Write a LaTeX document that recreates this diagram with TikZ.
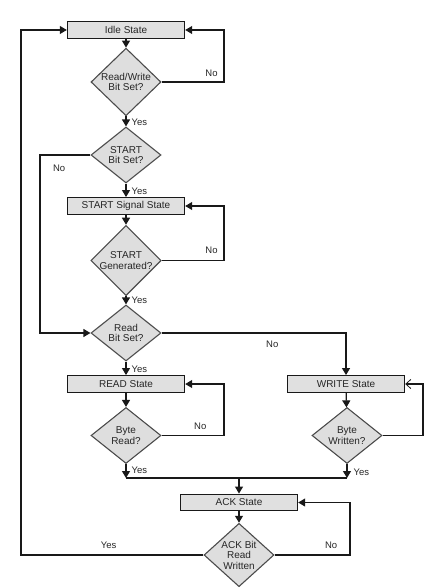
\documentclass[tikz,border=0pt]{standalone}
\usepackage{fontspec}
\setmainfont{Liberation Sans}
\usetikzlibrary{shapes.geometric,arrows.meta}
\begin{document}
\begin{tikzpicture}[x=1pt,y=-1pt,
  every node/.style={font=\fontsize{10}{10.5}\selectfont, text=black!85},
  statebox/.style={draw=black!90, line width=1.4pt, fill=black!12, minimum width=117pt, minimum height=16.5pt, inner sep=0pt},
  decision/.style={draw=black!70, line width=1.1pt, fill=black!13, shape=diamond, minimum width=70pt, minimum height=56pt, inner sep=0pt, align=center},
  flow/.style={line width=1.2pt, draw=black!90, -{Triangle[length=7pt,width=8pt]}},
  plain/.style={line width=1.2pt, draw=black!90},
  openflow/.style={line width=1.2pt, draw=black!90, -{Straight Barb[length=5pt,width=9pt,line width=0.8pt]}},
  lbl/.style={font=\fontsize{9.5}{10}\selectfont, inner sep=0pt}
]
\useasboundingbox (0,0) rectangle (434,588);

\node[statebox] (idle) at (126,30) {Idle State};
\node[decision] (rw) at (126,82) {Read/Write\\Bit Set?};
\node[decision] (sb) at (126,155) {START\\Bit Set?};
\node[statebox] (sss) at (126,206) {START Signal State};
\node[decision] (sg) at (126,260.5) {START\\Generated?};
\node[decision] (rb) at (126,333) {Read\\Bit Set?};
\node[statebox] (read) at (126,384) {READ State};
\node[decision] (br) at (126,435.5) {Byte\\Read?};
\node[statebox] (write) at (346,384) {WRITE State};
\node[decision] (bw) at (347,435.5) {Byte\\Written?};
\node[statebox] (ack) at (239,502.5) {ACK State};
\node[decision] (ackd) at (239,555) {ACK Bit\\Read\\Written};

\coordinate (mL) at (126,478);
\coordinate (mR) at (347,478);
\coordinate (mC) at (239,478);

% main flow
\draw[flow] (idle) -- (rw);
\draw[flow] (rw) -- (sb) node[lbl, pos=0.55, right=5pt] {Yes};
\draw[flow] (sb) -- (sss) node[lbl, pos=0.55, right=5pt] {Yes};
\draw[flow] (sss) -- (sg);
\draw[flow] (sg) -- (rb) node[lbl, pos=0.55, right=5pt] {Yes};
\draw[flow] (rb) -- (read) node[lbl, pos=0.55, right=5pt] {Yes};
\draw[flow] (read) -- (br);
\draw[flow] (write) -- (bw);
\draw[flow] (ack) -- (ackd);

% loops
\draw[flow] (rw.east) -- (224,82) node[lbl, pos=0.8, above=5pt] {No} |- (idle.east);
\draw[flow] (sb.west) -- (40,155) node[lbl, pos=0.62, below=9pt] {No} |- (rb.west);
\draw[flow] (sg.east) -- (224,260.5) node[lbl, pos=0.8, above=6pt] {No} |- (sss.east);
\draw[flow] (rb.east) -| (write.north) node[lbl, pos=0.3, below=7pt] {No};
\draw[flow] (br.east) -- (224,435.5) node[lbl, pos=0.62, above=5pt] {No} |- (read.east);
\draw[openflow] (bw.east) -- (423,435.5) |- (write.east);
\draw[flow] (ackd.east) -- (350,555) node[lbl, pos=0.75, above=6pt] {No} |- (ack.east);
\draw[flow] (ackd.west) -- (21,555) node[lbl, pos=0.52, above=6pt] {Yes} |- (idle.west);

% merge
\draw[flow] (br.south) -- (mL) node[lbl, pos=0.45, right=5pt] {Yes};
\draw[flow] (bw.south) -- (mR) node[lbl, pos=0.6, right=6pt] {Yes};
\draw[plain] (mL) -- (mR);
\draw[flow] (mC) -- (ack.north);
\end{tikzpicture}
\end{document}
